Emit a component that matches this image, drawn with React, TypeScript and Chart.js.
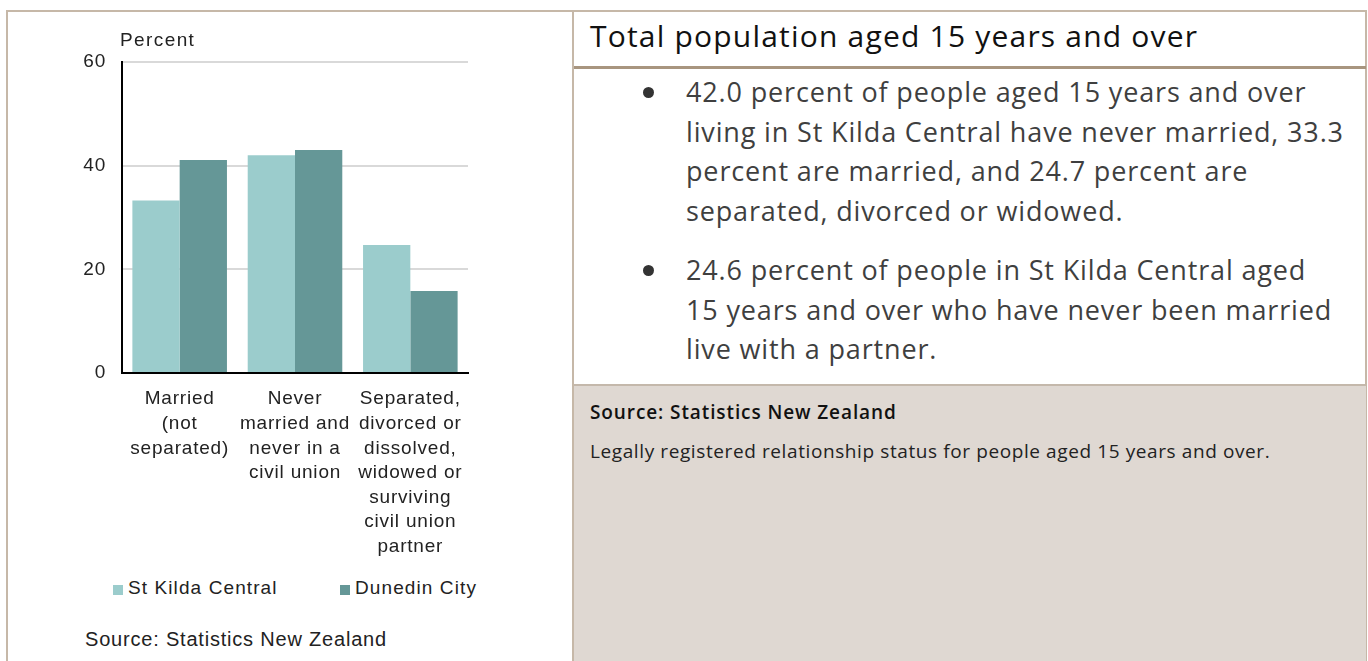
import React, { useEffect, useRef } from "react";
import { Chart, registerables } from "chart.js";

Chart.register(...registerables);

const categories: string[][] = [
  ["Married", "(not", "separated)"],
  ["Never", "married and", "never in a", "civil union"],
  ["Separated,", "divorced or", "dissolved,", "widowed or", "surviving", "civil union", "partner"],
];
const seriesNames = ["St Kilda Central", "Dunedin City"];
const stKildaCentral = [33.3, 42.0, 24.7];
const dunedinCity = [41.1, 43.0, 15.8];
const yTicks = [0, 20, 40, 60];

const LIGHT = "#9bcccc";
const DARK = "#659797";
const BORDER = "#c6b8a8";
const AXISFONT = "'Liberation Sans', Arial, sans-serif";
const TEXTFONT = "'Open Sans', 'Noto Sans', sans-serif";

const spacingPlugin = {
  id: "spacing",
  beforeUpdate: (chart: any) => { (chart.ctx as any).letterSpacing = "0.8px"; },
  beforeDraw: (chart: any) => { (chart.ctx as any).letterSpacing = "0.8px"; },
};

function BarChart() {
  const ref = useRef<HTMLCanvasElement | null>(null);
  useEffect(() => {
    if (!ref.current) return;
    const chart = new Chart(ref.current, {
      type: "bar",
      data: {
        labels: categories,
        datasets: [
          { label: seriesNames[0], data: stKildaCentral, backgroundColor: LIGHT, borderWidth: 0, categoryPercentage: 0.82, barPercentage: 1 },
          { label: seriesNames[1], data: dunedinCity, backgroundColor: DARK, borderWidth: 0, categoryPercentage: 0.82, barPercentage: 1 },
        ],
      },
      plugins: [spacingPlugin],
      options: {
        responsive: false,
        animation: false,
        layout: { padding: { left: 0, top: 62, right: 105, bottom: 0 } },
        plugins: { legend: { display: false }, tooltip: { enabled: false } },
        scales: {
          x: {
            grid: { display: false, drawTicks: false },
            border: { color: "#000", width: 2 },
            ticks: {
              color: "#222",
              padding: 14,
              maxRotation: 0,
              autoSkip: false,
              font: { family: AXISFONT, size: 19, lineHeight: 1.29 },
            },
            afterFit: (s: any) => { s.height = 575 - 373; },
          },
          y: {
            min: yTicks[0],
            max: yTicks[yTicks.length - 1],
            afterBuildTicks: (s: any) => { s.ticks = yTicks.map((v) => ({ value: v })); },
            grid: { color: "#d9d9d9", lineWidth: 2, drawTicks: false },
            border: { color: "#000", width: 2 },
            ticks: {
              color: "#222",
              padding: 16,
              font: { family: AXISFONT, size: 19 },
            },
            afterFit: (s: any) => { s.width = 122; },
          },
        },
      },
    });
    return () => chart.destroy();
  }, []);
  return <canvas ref={ref} width={573} height={575} style={{ position: "absolute", left: 0, top: 0 }} />;
}

export default function App() {
  useEffect(() => {
    document.body.style.margin = "0";
  }, []);
  const legendItem = (left: number, color: string, label: string, textLeft: number) => (
    <>
      <div style={{ position: "absolute", left, top: 585, width: 10, height: 10, background: color }} />
      <div style={{ position: "absolute", left: textLeft, top: 577, fontFamily: AXISFONT, fontSize: 19, letterSpacing: 1.1, color: "#222", whiteSpace: "nowrap" }}>{label}</div>
    </>
  );
  const bulletText: React.CSSProperties = {
    position: "absolute",
    left: 686,
    fontFamily: TEXTFONT,
    fontSize: 27,
    letterSpacing: 0.85,
    lineHeight: "39.5px",
    color: "#3f3f3f",
    whiteSpace: "nowrap",
  };
  const bullet = (top: number) => (
    <div style={{ position: "absolute", left: 643, top, width: 11, height: 11, borderRadius: "50%", background: "#333" }} />
  );
  return (
    <div style={{ position: "absolute", left: 0, top: 0, width: 1368, height: 661, overflow: "hidden", background: "#fff" }}>
      {/* frame */}
      <div style={{ position: "absolute", left: 6, top: 10, width: 1361, height: 700, borderTop: `2px solid ${BORDER}`, borderLeft: `2px solid ${BORDER}`, borderRight: `2px solid ${BORDER}`, boxSizing: "border-box" }} />
      <div style={{ position: "absolute", left: 572, top: 10, width: 2, height: 700, background: BORDER }} />
      {/* chart */}
      <div style={{ position: "absolute", left: 0, top: 0, width: 573, height: 661 }}>
        <BarChart />
        <div style={{ position: "absolute", left: 120, top: 29, fontFamily: AXISFONT, fontSize: 19, letterSpacing: 1.4, color: "#222" }}>Percent</div>
        {legendItem(113, LIGHT, seriesNames[0], 128)}
        {legendItem(340, DARK, seriesNames[1], 355)}
        <div style={{ position: "absolute", left: 85, top: 628, fontFamily: AXISFONT, fontSize: 20, letterSpacing: 0.8, color: "#222", whiteSpace: "nowrap" }}>Source: Statistics New Zealand</div>
      </div>
      {/* right panel */}
      <div style={{ position: "absolute", left: 574, top: 66, width: 792, height: 3, background: "#a8957f" }} />
      <div style={{ position: "absolute", left: 590, top: 15, fontFamily: TEXTFONT, fontSize: 30, letterSpacing: 1.2, color: "#111", whiteSpace: "nowrap" }}>
        Total population aged 15 years and over
      </div>
      {bullet(87)}
      <div style={{ ...bulletText, top: 72 }}>
        42.0 percent of people aged 15 years and over<br />
        living in St Kilda Central have never married, 33.3<br />
        percent are married, and 24.7 percent are<br />
        separated, divorced or widowed.
      </div>
      {bullet(265)}
      <div style={{ ...bulletText, top: 250 }}>
        24.6 percent of people in St Kilda Central aged<br />
        15 years and over who have never been married<br />
        live with a partner.
      </div>
      <div style={{ position: "absolute", left: 574, top: 384, width: 792, height: 300, background: "#dfd8d2", borderTop: "2px solid #c4b8ab" }} />
      <div style={{ position: "absolute", left: 590, top: 399, fontFamily: TEXTFONT, fontSize: 19, fontWeight: 600, letterSpacing: 0.9, color: "#111", whiteSpace: "nowrap" }}>
        Source: Statistics New Zealand
      </div>
      <div style={{ position: "absolute", left: 590, top: 438, fontFamily: TEXTFONT, fontSize: 19, letterSpacing: 0.6, color: "#222", whiteSpace: "nowrap" }}>
        Legally registered relationship status for people aged 15 years and over.
      </div>
    </div>
  );
}
